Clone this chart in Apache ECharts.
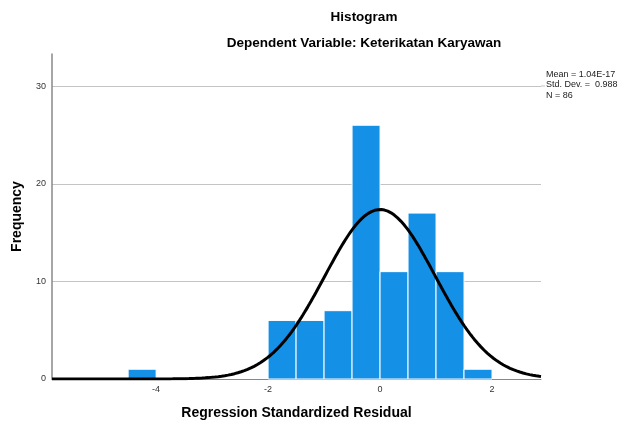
<!DOCTYPE html>
<html><head><meta charset="utf-8">
<script src="https://cdn.jsdelivr.net/npm/echarts@6/dist/echarts.min.js"></script>
<style>html,body{margin:0;padding:0;background:#fff}#c{width:619px;height:427px}</style>
</head><body><div id="c"></div>
<script>
const binStarts = [-4.5, -2.0, -1.5, -1.0, -0.5, 0.0, 0.5, 1.0, 1.5];
const binCounts = [1, 6, 6, 7, 26, 11, 17, 11, 1];
const binWidth = 0.5;
const statMean = 1.04e-17, statSD = 0.988, statN = 86;
const xTicks = [-4, -2, 0, 2];
const yTicks = [0, 10, 20, 30];
const xMin = -5.86, xMax = 2.875, yMax = 33.3;

const curve = [];
for (let i = 0; i <= 300; i++) {
  const x = xMin + (xMax - xMin) * i / 300;
  const z = (x - statMean) / statSD;
  curve.push([x, statN * binWidth * Math.exp(-0.5 * z * z) / (statSD * Math.sqrt(2 * Math.PI))]);
}
const chart = echarts.init(document.getElementById('c'));
const F = 'Liberation Sans, Arial, sans-serif';
chart.setOption({
  animation: false,
  textStyle: {fontFamily: F},
  title: [
    {text: 'Histogram', left: 359, top: 5, textAlign: 'center', textStyle: {fontSize: 13.5, fontWeight: 'bold', color: '#000', fontFamily: F}},
    {text: 'Dependent Variable: Keterikatan Karyawan', left: 359, top: 31, textAlign: 'center', textStyle: {fontSize: 13.5, fontWeight: 'bold', color: '#000', fontFamily: F}}
  ],
  grid: {left: 52, right: 78, top: 54, bottom: 48},
  xAxis: {
    type: 'value', min: xMin, max: xMax,
    name: 'Regression Standardized Residual', nameLocation: 'middle', nameGap: 27,
    nameTextStyle: {fontSize: 14, fontWeight: 'bold', color: '#000', fontFamily: F},
    axisLine: {show: true, onZero: false, lineStyle: {color: '#888', width: 1}},
    axisTick: {show: false},
    splitLine: {show: false},
    axisLabel: {customValues: xTicks, fontSize: 9, color: '#333', margin: 6, fontFamily: F}
  },
  yAxis: {
    type: 'value', min: 0, max: yMax, interval: 10,
    name: 'Frequency', nameLocation: 'middle', nameGap: 28,
    nameTextStyle: {fontSize: 14, fontWeight: 'bold', color: '#000', fontFamily: F},
    axisLine: {show: true, onZero: false, lineStyle: {color: '#888', width: 1.5}},
    axisTick: {show: false},
    splitLine: {show: true, showMaxLine: false, lineStyle: {color: '#c4c4c4', width: 1}},
    axisLabel: {customValues: yTicks, fontSize: 9, color: '#333', margin: 6, fontFamily: F}
  },
  series: [
    {
      type: 'custom',
      data: binStarts.map((s, i) => [s, s + binWidth, binCounts[i]]),
      renderItem: function (params, api) {
        const p0 = api.coord([api.value(0), 0]);
        const p1 = api.coord([api.value(1), api.value(2)]);
        return {type: 'rect', shape: {x: p0[0], y: p1[1], width: p1[0] - p0[0], height: p0[1] - p1[1]},
          style: {fill: '#1490e6', stroke: '#fff', lineWidth: 1}};
      },
      z: 2
    },
    {
      type: 'line', data: curve, showSymbol: false, smooth: false,
      lineStyle: {color: '#000', width: 3}, z: 3
    }
  ],
  graphic: [
    {type: 'line', shape: {x1: 541, y1: 86, x2: 545, y2: 86}, style: {stroke: '#c4c4c4', lineWidth: 1}},
    {type: 'text', left: 546, top: 69, style: {text: 'Mean = 1.04E-17\nStd. Dev. =  0.988\nN = 86', font: '9px Liberation Sans, Arial, sans-serif', fill: '#222', lineHeight: 10.5}}
  ]
});
</script></body></html>
